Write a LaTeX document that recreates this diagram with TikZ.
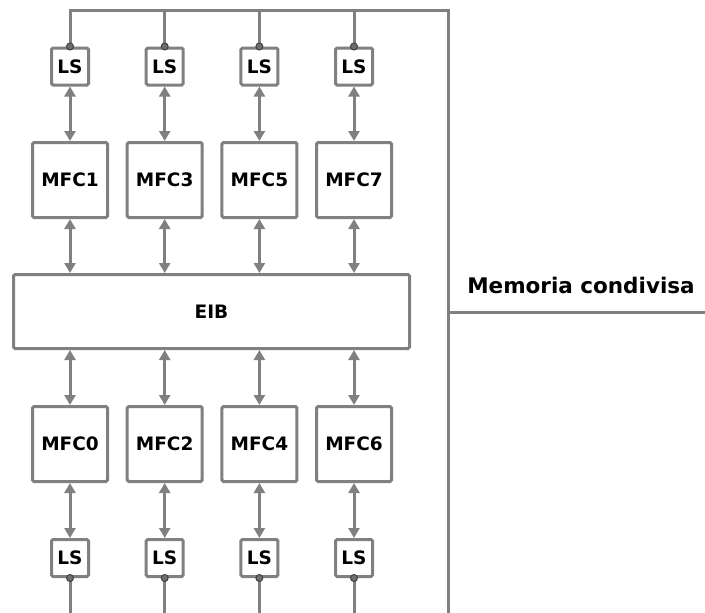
\documentclass[tikz,border=0pt]{standalone}
\usepackage{fontspec}
\setmainfont{DejaVu Sans}
\usetikzlibrary{arrows.meta}
\definecolor{wire}{HTML}{808080}
\definecolor{dotc}{HTML}{6E6E6E}
\tikzset{
  unit/.style={draw=wire, line width=3pt, fill=white, rounded corners=1.5pt,
    inner sep=0pt, font=\bfseries\fontsize{18.5}{18.5}\selectfont},
  mfc/.style={unit, minimum width=75pt, minimum height=75pt},
  lsbox/.style={unit, minimum width=37pt, minimum height=37pt},
  bus/.style={draw=wire, line width=3pt},
  link/.style={draw=wire, line width=3pt, {Triangle[length=10pt,width=11pt]}-{Triangle[length=10pt,width=11pt]}},
  port/.style={circle, draw=dotc!60!black, line width=1pt, fill=dotc, minimum size=7pt, inner sep=0pt}
}
\begin{document}
\begin{tikzpicture}[x=1pt,y=-1pt]
\useasboundingbox (0,0) rectangle (705,613);

% shared memory bus
\coordinate (tl) at (70,10);
\coordinate (tr) at (448,10);
\coordinate (br) at (448,613);
\coordinate (mo) at (705,312);
\draw[bus, line cap=rect] (tl) -- (tr) -- (br);
\draw[bus] (448,312) -- (mo);
\node[font=\bfseries\fontsize{21.5}{21.5}\selectfont, anchor=base] (mem) at (581,293) {Memoria condivisa};

% element interconnect bus
\node[unit, minimum width=396pt, minimum height=74pt] (eib) at (211.5,311.5) {EIB};

\foreach \x/\u/\l [count=\i] in {70/1/0, 164.7/3/2, 259.4/5/4, 354/7/6} {
  \node[lsbox] (lst\i) at (\x,66.5) {LS};
  \node[mfc] (mfct\i) at (\x,180) {MFC\u};
  \node[mfc] (mfcb\i) at (\x,444) {MFC\l};
  \node[lsbox] (lsb\i) at (\x,558) {LS};
  \coordinate (topbus\i) at (\x,10);
  \coordinate (botend\i) at (\x,613);
  \draw[bus] (lst\i.north) -- (topbus\i);
  \draw[bus] (lsb\i.south) -- (botend\i);
  \node[port] (pt\i) at (lst\i.north) {};
  \node[port] (pb\i) at (lsb\i.south) {};
  \draw[link] (lst\i) -- (mfct\i);
  \draw[link] (mfct\i) -- (mfct\i |- eib.north);
  \draw[link] (mfcb\i |- eib.south) -- (mfcb\i);
  \draw[link] (mfcb\i) -- (lsb\i);
}
\end{tikzpicture}
\end{document}
